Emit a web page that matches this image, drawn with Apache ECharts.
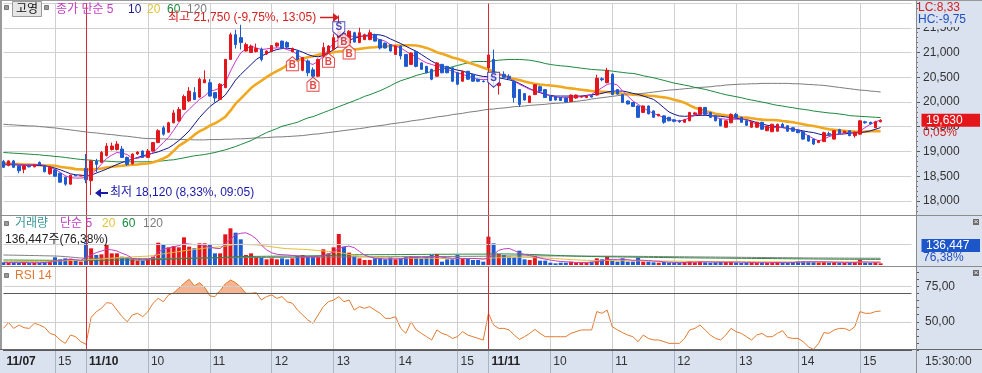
<!DOCTYPE html>
<html><head><meta charset="utf-8">
<script src="https://cdn.jsdelivr.net/npm/echarts@6/dist/echarts.min.js"></script>
<style>html,body{margin:0;padding:0;background:#fff;}#c{width:982px;height:373px;}</style>
</head><body><div id="c"></div>
<script>
// ---------------- DATA (5-minute slots, slot 0 = 11/07 14:10) ----------------
const opens = [18800,18720,18810,18710,18640,18700,18690,18780,18710,18550,
18630,18560,18480,18340,18520,18510,18660,18410,18800,18780,
18920,19040,19040,19050,18880,18750,18950,19010,18880,19010,
19180,19480,19390,19580,19620,19850,20020,20190,20100,20390,
20390,20190,20050,20290,20860,21360,21300,21030,21000,21020,
21070,20970,21020,21130,21230,21200,21020,21030,20640,20830,
20650,20520,20930,21000,21060,21300,21390,21190,21400,21200,
21260,21260,21360,21260,21190,21160,20960,21130,20960,20760,
21020,20790,20720,20660,20520,20760,20720,20690,20590,20420,
20620,20560,20460,20420,20690,20860,20330,20560,20520,20420,
20250,20170,19990,20150,20310,20250,20120,20110,20090,20080,
20010,20080,20100,20090,20130,20140,20470,20390,20560,20250,
20150,20020,19990,19920,19790,19920,19820,19720,19720,19690,
19640,19620,19590,19620,19750,19750,19890,19790,19720,19650,
19490,19580,19750,19690,19620,19490,19490,19590,19420,19400,
19410,19550,19520,19480,19430,19400,19320,19250,19180,19200,
19360,19250,19440,19380,19420,19320,19350,19600,19590,19480,
19600];
const highs = [18830,18820,18830,18720,18720,18720,18740,18800,18720,18690,
18640,18570,18490,18530,18520,18520,18950,18830,18850,19010,
19170,19180,19210,19110,18900,18960,19000,19020,19050,19190,
19450,19520,19600,19840,19900,20150,20300,20300,20490,20640,
20460,20200,20380,20870,21400,21460,21560,21200,21160,21180,
21100,21040,21150,21200,21240,21230,21100,21050,20910,20860,
20700,20880,21200,21150,21380,21750,21420,21450,21420,21500,
21380,21460,21380,21270,21200,21170,21140,21140,20970,21000,
21030,20800,20730,20670,20800,20770,20730,20700,20600,20630,
20630,20570,20470,20440,21000,21060,20400,20620,20560,20440,
20260,20180,20130,20360,20330,20260,20130,20120,20100,20090,
20150,20150,20130,20130,20140,20550,20500,20690,20580,20260,
20160,20030,20000,19930,19930,19930,19830,19760,19730,19700,
19650,19640,19660,19800,19800,19900,19900,19800,19730,19660,
19630,19770,19780,19700,19630,19610,19600,19600,19520,19560,
19560,19580,19530,19490,19440,19410,19330,19260,19230,19400,
19400,19430,19460,19420,19430,19400,19630,19620,19600,19620,
19650];
const lows = [18670,18700,18670,18560,18560,18680,18680,18720,18580,18530,
18490,18370,18310,18330,18500,18500,18360,18120,18580,18770,
18900,19020,19020,18870,18710,18740,18930,18870,18870,19000,
19170,19320,19380,19570,19600,19840,20000,20040,20080,20380,
20110,19990,20040,20280,20850,21080,21060,21020,20990,21000,
20820,20950,21000,21100,21080,21090,21000,20850,20620,20520,
20480,20500,20900,20980,21040,21280,21180,21180,21200,21190,
21250,21250,21220,21060,21080,21020,20950,20860,20720,20750,
20700,20650,20580,20440,20510,20580,20580,20400,20340,20410,
20450,20410,20400,20400,20250,20300,20150,20480,20440,19990,
19900,20030,19980,20140,20200,20080,20020,20030,20020,19990,
20000,20070,20090,20080,20090,20130,20420,20380,20140,20150,
19980,19950,19900,19680,19780,19750,19680,19710,19560,19610,
19590,19580,19580,19610,19740,19740,19740,19680,19610,19510,
19480,19570,19680,19580,19520,19480,19480,19440,19410,19390,
19400,19480,19400,19400,19370,19240,19200,19130,19170,19190,
19330,19240,19360,19370,19310,19280,19340,19560,19540,19470,
19590];
const closes = [18680,18810,18680,18610,18710,18690,18730,18730,18590,18680,
18500,18380,18340,18520,18510,18510,18430,18810,18740,18980,
19110,19110,19150,18880,18740,18950,18990,18880,19010,19180,
19420,19350,19580,19780,19850,20110,20220,20050,20460,20450,
20120,20080,20360,20860,21360,21160,21200,21160,21130,21080,
20860,21030,21140,21190,21090,21110,21080,20860,20900,20590,
20520,20860,21100,21130,21300,21430,21190,21430,21210,21400,
21360,21400,21230,21090,21090,21030,21130,20930,20720,20990,
20720,20660,20590,20460,20790,20590,20590,20420,20360,20620,
20460,20420,20420,20410,20950,20460,20380,20500,20470,20090,
19950,20040,20120,20350,20220,20090,20030,20040,20030,20000,
20140,20140,20110,20120,20100,20480,20450,20640,20150,20160,
19990,19960,19910,19690,19920,19760,19690,19750,19590,19620,
19610,19600,19640,19790,19780,19890,19750,19690,19620,19520,
19620,19750,19690,19590,19530,19600,19590,19450,19510,19550,
19550,19490,19410,19410,19380,19250,19210,19150,19220,19380,
19350,19420,19370,19410,19320,19390,19620,19580,19560,19600,
19630];
const ma5 = [18745,18751,18751,18738,18731,18731,18738,18738,18718,18678,
18644,18577,18510,18470,18463,18463,18476,18543,18631,18745,
18859,18926,18980,18966,18939,18859,18859,18899,18913,18980,
19080,19181,19282,19429,19584,19751,19852,19953,20053,20120,
20221,20241,20288,20389,20624,20825,20993,21073,21127,21093,
21060,21073,21087,21093,21093,21060,21026,20959,20872,20791,
20758,20825,20926,21060,21194,21261,21295,21328,21328,21328,
21328,21328,21295,21261,21228,21160,21127,21093,21026,20959,
20912,20845,20791,20758,20724,20691,20657,20624,20590,20557,
20523,20489,20456,20456,20456,20510,20557,20536,20489,20422,
20355,20308,20255,20228,20201,20161,20120,20100,20087,20087,
20094,20100,20107,20120,20154,20221,20288,20355,20376,20342,
20221,20120,20020,19953,19885,19818,19771,19731,19684,19651,
19624,19617,19637,19684,19731,19771,19785,19738,19684,19664,
19651,19651,19651,19651,19637,19597,19550,19516,19483,19483,
19483,19483,19463,19449,19436,19382,19315,19261,19215,19248,
19302,19329,19362,19382,19382,19369,19416,19483,19550,19597,
19637];
const ma10 = [18731,18731,18731,18731,18725,18725,18725,18718,18711,18691,
18664,18631,18591,18550,18530,18523,18510,18523,18564,18604,
18644,18691,18738,18778,18812,18845,18879,18913,18939,18966,
18993,19033,19073,19141,19221,19315,19416,19550,19684,19798,
19906,19986,20053,20141,20288,20443,20557,20657,20758,20859,
20926,20979,21026,21060,21080,21087,21073,21046,21006,20959,
20926,20912,20939,20993,21060,21127,21194,21248,21288,21315,
21342,21355,21362,21355,21328,21275,21228,21181,21127,21073,
21026,20959,20892,20825,20771,20724,20691,20671,20644,20624,
20590,20563,20536,20516,20510,20503,20489,20469,20449,20422,
20376,20322,20268,20221,20188,20154,20134,20120,20120,20120,
20120,20120,20120,20134,20147,20154,20174,20201,20221,20221,
20221,20201,20174,20154,20120,20087,20053,19973,19885,19798,
19751,19718,19711,19718,19724,19731,19731,19724,19718,19711,
19698,19684,19671,19657,19644,19617,19584,19557,19530,19516,
19503,19483,19470,19449,19436,19416,19396,19382,19355,19329,
19329,19342,19349,19355,19369,19375,19382,19396,19416,19449,
19483];
const ma20 = [18765,18758,18750,18745,18738,18738,18731,18725,18718,18718,
18711,18690,18678,18664,18644,18638,18631,18638,18644,18658,
18678,18691,18705,18711,18725,18731,18738,18751,18758,18785,
18812,18859,18913,19013,19114,19181,19248,19335,19409,19456,
19523,19570,19631,19698,19825,19966,20067,20174,20281,20362,
20429,20503,20570,20624,20677,20744,20812,20845,20879,20906,
20926,20952,20973,20993,21006,21020,21026,21040,21060,21073,
21087,21100,21107,21120,21127,21134,21140,21140,21147,21147,
21140,21120,21093,21053,21006,20973,20939,20899,20872,20838,
20798,20765,20731,20691,20657,20610,20563,20530,20496,20463,
20443,20416,20389,20369,20355,20342,20335,20322,20308,20288,
20275,20261,20248,20235,20221,20214,20208,20201,20188,20181,
20167,20161,20147,20141,20134,20127,20120,20107,20094,20074,
20047,20020,19986,19932,19885,19852,19818,19791,19764,19745,
19731,19718,19704,19691,19684,19671,19657,19644,19637,19637,
19631,19617,19604,19590,19570,19550,19530,19516,19496,19470,
19449,19436,19429,19416,19409,19402,19396,19402,19409,19416,
19409];
const ma60 = [18980,18973,18966,18960,18953,18946,18939,18933,18919,18913,
18899,18892,18879,18865,18852,18839,18832,18825,18812,18812,
18805,18798,18792,18792,18792,18792,18792,18792,18792,18798,
18805,18812,18825,18832,18852,18872,18892,18913,18926,18939,
18960,18980,19007,19033,19067,19100,19141,19181,19221,19275,
19329,19382,19423,19463,19510,19537,19563,19590,19637,19678,
19704,19745,19785,19825,19865,19906,19946,19986,20026,20067,
20114,20147,20188,20228,20275,20328,20382,20429,20463,20496,
20536,20563,20590,20617,20644,20664,20684,20711,20738,20765,
20791,20812,20818,20818,20818,20832,20845,20852,20859,20859,
20859,20852,20845,20825,20805,20778,20758,20744,20731,20724,
20711,20697,20684,20671,20657,20651,20644,20637,20624,20610,
20597,20584,20577,20557,20530,20510,20489,20463,20436,20409,
20382,20362,20342,20322,20295,20275,20255,20228,20201,20174,
20147,20127,20107,20087,20060,20040,20020,19999,19979,19953,
19932,19919,19899,19885,19865,19852,19838,19818,19805,19791,
19778,19771,19758,19745,19724,19718,19711,19704,19698,19691,
19684];
const ma120 = [19550,19543,19537,19530,19523,19516,19516,19503,19496,19483,
19476,19463,19449,19436,19423,19409,19396,19382,19375,19362,
19349,19342,19329,19315,19308,19295,19282,19268,19261,19261,
19255,19255,19248,19248,19241,19241,19241,19235,19235,19235,
19241,19241,19241,19248,19248,19255,19255,19261,19268,19275,
19275,19282,19288,19295,19295,19302,19308,19315,19322,19335,
19349,19355,19369,19382,19396,19409,19423,19436,19449,19463,
19476,19496,19510,19523,19537,19557,19570,19584,19597,19617,
19631,19644,19664,19678,19698,19711,19724,19745,19758,19771,
19791,19805,19818,19838,19852,19858,19872,19879,19892,19906,
19912,19919,19932,19939,19946,19953,19966,19973,19979,19986,
19999,20013,20026,20040,20060,20074,20087,20100,20114,20127,
20141,20147,20154,20167,20174,20188,20201,20214,20228,20241,
20248,20255,20268,20275,20288,20295,20301,20308,20322,20328,
20342,20349,20355,20362,20362,20369,20369,20376,20376,20376,
20376,20376,20376,20369,20369,20362,20355,20349,20342,20335,
20322,20308,20295,20281,20268,20255,20241,20235,20221,20214,
20201];
const volumes = [1140,1000,1140,860,1290,860,1000,1000,1290,1570,
3290,2430,2860,2720,1860,1430,9570,7150,4290,4570,
9000,5000,5000,3570,3290,2430,1860,1860,2430,3570,
9570,8570,7570,8150,7570,11860,7860,7150,9290,9290,
8570,5000,5000,13150,15720,13860,11000,4290,5000,3570,
3290,2430,2860,2430,2860,2430,2860,3860,4290,3570,
3570,3570,6720,5000,7570,13290,7860,5290,3570,2860,
2140,2140,2860,2860,2430,3290,2430,2860,3570,3860,
3570,2860,3570,4290,4720,1430,2430,2430,4290,2860,
2860,2140,2140,1430,12150,9290,4720,4290,3570,3290,
6140,2430,2140,3860,1860,1860,1000,710,1000,1000,
1430,1000,1000,1000,1430,2860,2430,3570,1860,1430,
2860,1430,1430,3140,1430,1430,1140,1000,1290,1000,
860,1000,1290,1570,1140,1430,1140,1000,1140,1290,
1290,1430,1000,860,1000,1140,1000,1000,860,1140,
1290,1000,860,1290,1570,1710,1430,1290,1140,1430,
1000,1290,1000,860,1000,1140,2140,1000,860,1140,
710];
const vma5 = [1100,1100,1100,1100,1100,1000,1000,1000,1100,1200,
1600,1900,2200,2400,2300,2000,3200,4300,5300,6000,
6700,6500,6000,5000,4200,2800,2400,2200,2300,3200,
5500,6800,7200,7800,8300,9200,9000,8700,8800,8200,
7600,7200,7000,9200,11000,13000,13600,13800,12800,11200,
8500,6500,5200,4600,4400,4300,4100,3900,3700,3600,
3600,3700,4000,4600,5800,7000,7800,8100,7400,5800,
4200,3500,2900,2700,2600,2600,2600,2700,2900,3100,
3300,3300,3300,3400,3600,3300,3100,2900,2900,2800,
2800,2800,2700,2500,2900,4500,6300,6900,7100,6200,
5100,4500,4000,3600,3000,2500,2100,1800,1500,1400,
1200,1100,1100,1100,1200,1500,1800,2300,2400,2400,
2500,2300,2000,2100,2000,1900,1700,1600,1300,1200,
1100,1000,1100,1200,1200,1300,1300,1300,1200,1200,
1200,1200,1200,1200,1100,1100,1000,1000,1000,1000,
1100,1100,1100,1100,1200,1300,1400,1400,1400,1300,
1300,1200,1200,1100,1100,1100,1300,1300,1200,1200,
1200];
const vma20 = [1400,1420,1440,1460,1480,1500,1520,1540,1560,1600,
1680,1750,1830,1900,1980,2050,2200,2300,2400,2550,
2800,2950,3100,3200,3350,3500,3600,3700,3800,4000,
4400,4800,5100,5400,5700,6100,6400,6600,6900,7200,
7400,7600,7800,8100,8500,8800,8900,8800,8700,8600,
8400,8100,7800,7500,7200,7000,6900,6800,6700,6600,
6400,6200,6000,5800,5600,5400,5000,4500,4100,3800,
3600,3400,3300,3200,3100,3000,2950,2900,2900,2900,
2850,2850,2850,2850,2850,2800,2800,2800,2800,2750,
2750,2750,2750,2750,2900,3000,3100,3150,3200,3250,
3300,3250,3200,3150,3100,3000,2900,2750,2600,2450,
2300,2200,2100,2000,1950,1900,1900,1900,1880,1860,
1840,1820,1800,1780,1760,1740,1720,1700,1680,1660,
1640,1620,1600,1580,1560,1540,1520,1500,1480,1460,
1440,1430,1420,1410,1400,1390,1380,1370,1360,1350,
1340,1330,1320,1310,1300,1300,1300,1300,1300,1300,
1290,1290,1290,1290,1290,1290,1300,1300,1290,1290,
1290];
const vma60 = [2140,2130,2120,2100,2090,2080,2060,2050,2030,2010,
1990,1970,1950,1920,1890,1860,1900,1950,1980,2000,
2050,2080,2100,2110,2120,2130,2140,2140,2150,2200,
2300,2400,2480,2560,2640,2750,2820,2880,2960,3040,
3100,3140,3180,3300,3420,3540,3620,3650,3680,3700,
3720,3740,3760,3780,3800,3820,3840,3860,3890,3920,
3950,3980,4040,4080,4140,4260,4320,4360,4390,4400,
4400,4410,4420,4430,4440,4450,4460,4470,4490,4510,
4530,4540,4560,4580,4600,4600,4610,4620,4640,4650,
4660,4660,4660,4650,4720,4760,4760,4740,4720,4690,
4660,4600,4530,4470,4380,4300,4200,4120,4040,3960,
3880,3810,3750,3690,3640,3600,3560,3530,3500,3470,
3440,3410,3380,3350,3320,3290,3260,3230,3200,3170,
3140,3110,3080,3060,3040,3020,3000,2980,2960,2940,
2920,2900,2880,2860,2840,2820,2800,2780,2760,2740,
2720,2700,2680,2660,2640,2620,2600,2580,2560,2540,
2520,2500,2490,2480,2470,2460,2450,2440,2430,2430,
2420];
const vma120 = [4290,4250,4210,4170,4130,4090,4050,4000,3950,3900,
3850,3750,3600,3400,3200,3000,2950,2920,2900,2880,
2870,2860,2850,2840,2830,2820,2810,2800,2800,2800,
2820,2840,2860,2880,2900,2930,2950,2970,3000,3020,
3040,3060,3080,3110,3140,3170,3190,3200,3210,3220,
3230,3240,3250,3260,3270,3280,3290,3300,3310,3320,
3330,3340,3360,3380,3400,3430,3450,3460,3470,3480,
3490,3500,3510,3520,3530,3540,3550,3560,3570,3580,
3590,3600,3610,3620,3640,3650,3660,3670,3690,3700,
3710,3720,3730,3740,3800,3840,3860,3870,3880,3890,
3900,3900,3900,3900,3900,3900,3890,3880,3870,3860,
3850,3840,3830,3820,3810,3800,3790,3780,3770,3760,
3750,3740,3720,3700,3680,3660,3640,3620,3600,3580,
3560,3540,3520,3500,3480,3460,3440,3420,3400,3380,
3360,3340,3320,3300,3280,3260,3240,3220,3200,3180,
3160,3140,3120,3100,3080,3060,3040,3020,3000,2990,
2980,2970,2960,2950,2940,2930,2920,2910,2900,2900,
2890];
const rsi = [45.3,49.4,45.3,47.7,45.8,45.3,48.9,47.7,46.0,41.8,
40.6,37.1,34.7,40.6,39.4,35.9,34.0,53.0,57.1,59.5,
63.5,63.1,58.3,53.6,50.0,54.8,56.0,53.6,57.2,63.1,
66.6,64.2,69.0,70.6,73.7,77.2,80.1,75.4,77.7,74.4,
68.3,67.8,72.0,76.8,79.6,77.7,74.4,70.2,70.2,70.6,
65.4,67.8,69.0,66.6,67.8,64.2,63.1,58.3,54.8,51.2,
48.9,54.8,60.7,64.2,65.4,67.8,64.2,65.4,58.3,60.7,
59.5,60.7,58.3,56.0,52.4,52.4,53.6,45.3,41.8,50.0,
44.2,41.8,39.4,37.1,44.2,41.8,40.6,38.2,39.4,43.0,
40.6,39.4,38.2,37.1,56.0,47.7,45.3,45.3,44.2,40.6,
37.5,39.4,41.8,44.6,41.8,39.4,39.4,39.4,39.4,39.4,
41.8,43.0,44.2,44.2,44.2,57.2,56.0,58.3,46.5,44.2,
42.3,40.6,39.4,35.9,40.6,38.2,37.1,37.1,35.9,34.7,
34.7,34.7,38.2,44.2,45.3,47.7,44.2,40.6,38.2,37.1,
40.6,45.3,43.0,41.8,39.4,37.1,40.6,41.8,39.4,39.4,
41.8,43.7,38.9,38.2,38.2,35.9,32.3,30.4,34.7,42.3,
41.8,44.2,45.3,45.3,43.7,46.5,57.2,56.0,56.0,57.2,
57.6];
// trading signals: slot index and signal price
const buySlots = [56, 60, 63, 66, 67];
const buyPrices = [20915, 20499, 20984, 21388, 21152];
const sellSlots = [65, 95];
const sellPrices = [21319, 20297];
// time axis
const SLOT_COUNT = 177;
const tickIdx = [0,10,16,28,40,52,64,76,88,94,106,118,130,142,154,166];
const tickText = ['11/07','15','11/10','10','11','12','13','14','15','11/11','10','11','12','13','14','15'];
const dayStartIdx = [16, 94];

// ---------------- CHART ----------------
const categories = Array.from({length: SLOT_COUNT}, (_, i) => String(i));
const labelMap = new Map(tickIdx.map((v, i) => [v, tickText[i]]));
const gridSet = new Set(tickIdx.filter(i => i > 0 && !dayStartIdx.includes(i)));
const sepSet = new Set(tickIdx.filter(i => i > 0));
const FONT = "'Liberation Sans','Noto Sans CJK KR',sans-serif";
const UP = '#e3161c', DOWN = '#1d5bcf', DAYRED = '#d42a3a', PANEL = '#d9e2ee';
const fmt = v => String(v).replace(/\B(?=(\d{3})+(?!\d))/g, ',');
const GL = 3.4, GW = 908.16;

const dayLines = dayStartIdx.map(i => ({xAxis: i}));
const mk = (extra) => ({silent: true, symbol: ['none','none'], label: {show: false},
  lineStyle: {color: DAYRED, type: 'solid', width: 1}, emphasis: {disabled: true},
  data: (extra || []).concat(dayLines)});

function xAx(g) {
  return {
    type: 'category', gridIndex: g, data: categories, boundaryGap: false,
    axisLine: {show: g === 2, lineStyle: {color: '#666'}},
    axisTick: {show: g === 2, interval: (i) => sepSet.has(i), length: 23, inside: false,
      lineStyle: {color: '#aab5c4'}},
    axisLabel: {show: g === 2, interval: (i) => labelMap.has(i), align: 'left', padding: [0,0,0,3],
      margin: 6, color: '#333', fontSize: 12, fontFamily: FONT,
      formatter: (v, i) => { const t = labelMap.get(i); if (!t) return ''; return t.includes('/') ? '{b|' + t + '}' : t; },
      rich: {b: {fontWeight: 'bold', fontSize: 12, fontFamily: FONT, color: '#222'}}},
    splitLine: {show: true, interval: (i) => gridSet.has(i), lineStyle: {color: '#cfcfcf', width: 1}}
  };
}
const line = (data, color, width, xi, z) => ({type: 'line', xAxisIndex: xi, yAxisIndex: xi, data,
  symbol: 'none', showSymbol: false, lineStyle: {color, width}, itemStyle: {color}, z: z || 2,
  silent: true, clip: false, emphasis: {disabled: true}});

const ohlc = opens.map((o, i) => [o, closes[i], lows[i], highs[i]]);
const volData = volumes.map((v, i) => ({value: v, itemStyle: {color: closes[i] >= opens[i] ? UP : DOWN}}));

const chart = echarts.init(document.getElementById('c'), null, {renderer: 'canvas', width: 982, height: 373});
const option = {
  animation: false,
  backgroundColor: '#ffffff',
  grid: [
    {left: GL, width: GW, top: 3.5, height: 211.5},
    {left: GL, width: GW, top: 216, height: 49},
    {left: GL, width: GW, top: 267, height: 83}
  ],
  xAxis: [xAx(0), xAx(1), xAx(2)],
  yAxis: [
    {type: 'value', gridIndex: 0, position: 'right', offset: 4.4, min: 17717, max: 21990, splitNumber: 8,
      axisLine: {show: false},
      axisTick: {show: true, length: 4, lineStyle: {color: '#555'}},
      minorTick: {show: true, splitNumber: 5, length: 2, lineStyle: {color: '#666'}},
      axisLabel: {margin: 7, color: '#333', fontSize: 12, fontFamily: FONT, showMinLabel: false, showMaxLabel: false,
        formatter: v => (v >= 18000 && v <= 21500) ? fmt(v) : ''},
      splitLine: {show: true, lineStyle: {color: '#d0d0d0', width: 1}}},
    {type: 'value', gridIndex: 1, min: 0, max: 21000, position: 'right', offset: 4.4,
      axisLine: {show: false}, axisTick: {show: false}, axisLabel: {show: false}, splitLine: {show: false}},
    {type: 'value', gridIndex: 2, position: 'right', offset: 4.4, min: 30, max: 88.78, interval: 5,
      axisLine: {show: false},
      axisTick: {show: true, length: 3, lineStyle: {color: '#555'}},
      axisLabel: {margin: 9, color: '#333', fontSize: 12, fontFamily: FONT, showMaxLabel: false,
        formatter: v => (v === 50 || v === 75) ? v.toFixed(2).replace('.', ',') : ''},
      splitLine: {show: false}}
  ],
  series: [
    line(ma120, '#7c7c7c', 1, 0, 1),
    line(ma60, '#1b8a3c', 1, 0, 1),
    line(ma20, '#f0a81e', 2.6, 0, 1),
    line(ma10, '#14148a', 1, 0, 1),
    line(ma5, '#cc33cc', 1, 0, 1),
    {type: 'candlestick', xAxisIndex: 0, yAxisIndex: 0, data: ohlc, barWidth: 3, clip: false, z: 3,
      silent: true,
      itemStyle: {color: UP, color0: DOWN, borderColor: UP, borderColor0: DOWN, borderWidth: 1},
      markLine: mk()},
    {type: 'scatter', xAxisIndex: 0, yAxisIndex: 0, z: 6, silent: true,
      data: buySlots.map((s, i) => [s, buyPrices[i]]),
      symbol: 'path://M6,0L12,5L12,14L0,14L0,5Z', symbolSize: [12, 14], symbolOffset: [0, 7],
      itemStyle: {color: '#ffffff', borderColor: '#e01818', borderWidth: 1},
      label: {show: true, formatter: 'B', position: 'inside', offset: [0, 2], color: '#e01818',
        fontSize: 10, fontWeight: 'bold', fontFamily: FONT}},
    {type: 'scatter', xAxisIndex: 0, yAxisIndex: 0, z: 6, silent: true,
      data: sellSlots.map((s, i) => [s, sellPrices[i]]),
      symbol: 'path://M0,0L12,0L12,9L6,14L0,9Z', symbolSize: [12, 15], symbolOffset: [0, -7.5],
      itemStyle: {color: '#ffffff', borderColor: '#1a1aa8', borderWidth: 1},
      label: {show: true, formatter: 'S', position: 'inside', offset: [0, -2], color: '#1a1aa8',
        fontSize: 10, fontWeight: 'bold', fontFamily: FONT}},
    {type: 'bar', xAxisIndex: 1, yAxisIndex: 1, data: volData, barWidth: 4, clip: false, z: 2, silent: true,
      markLine: mk([{yAxis: 9000, lineStyle: {color: '#cfcfcf', width: 1}}])},
    line(vma120, '#808080', 1, 1, 3),
    line(vma60, '#2a8a40', 1, 1, 3),
    line(vma20, '#e6bc3a', 1, 1, 3),
    line(vma5, '#c040c0', 1, 1, 3),
    {type: 'line', xAxisIndex: 2, yAxisIndex: 2, stack: 'ob', data: rsi.map(() => 70), symbol: 'none',
      lineStyle: {opacity: 0, width: 0}, silent: true, z: 1},
    {type: 'line', xAxisIndex: 2, yAxisIndex: 2, stack: 'ob', data: rsi.map(v => v > 70 ? +(v - 70).toFixed(2) : 0),
      symbol: 'none', lineStyle: {opacity: 0, width: 0}, areaStyle: {color: '#f6b590', opacity: 1}, silent: true, z: 1},
    {type: 'line', xAxisIndex: 2, yAxisIndex: 2, data: rsi, symbol: 'none', silent: true, z: 3,
      lineStyle: {color: '#e27a30', width: 1}, itemStyle: {color: '#e27a30'},
      markLine: mk([
        {yAxis: 75, lineStyle: {color: '#cfcfcf', width: 1}},
        {yAxis: 50, lineStyle: {color: '#cfcfcf', width: 1}},
        {yAxis: 70, lineStyle: {color: '#5a5a5a', width: 1}},
        {yAxis: 30, lineStyle: {color: '#5a5a5a', width: 1}}
      ])}
  ]
};
chart.setOption(option);

// ---------------- decorations (text / frame) ----------------
const T = (text, x, y, fill, opts) => Object.assign({type: 'text', z: 20, silent: true,
  style: Object.assign({text, x, y, fill, fontSize: 12, fontFamily: FONT, verticalAlign: 'middle', align: 'left'}, (opts || {}))});
const R = (x, y, w, h, fill, stroke, z) => ({type: 'rect', z: z === undefined ? 20 : z, silent: true,
  shape: {x, y, width: w, height: h}, style: {fill, stroke: stroke || null, lineWidth: 1}});
const Ln = (x1, y1, x2, y2, stroke, w, z) => ({type: 'line', z: z === undefined ? 15 : z, silent: true,
  shape: {x1, y1, x2, y2}, style: {stroke, lineWidth: w || 1}});

const lastY = chart.convertToPixel({yAxisIndex: 0}, closes[closes.length - 1]);
const g = [
  R(916, 0, 66, 373, PANEL, null, -1),
  R(0, 350, 982, 23, PANEL, null, -1),
  Ln(0, 0.5, 982, 0.5, '#9a9a9a'),
  Ln(1, 0, 1, 350, '#9a9a9a', 2),
  Ln(0, 215.5, 982, 215.5, '#8c8c8c'),
  Ln(0, 266.5, 982, 266.5, '#8c8c8c'),
  Ln(0, 349.5, 982, 349.5, '#666'),
  Ln(916.5, 0, 916.5, 373, '#8a8a8a'),
  // main legend
  R(4.5, 5.5, 4, 4, '#9a9a9a', '#777'),
  R(12.5, 1.5, 29, 15, '#e6e6e6', '#9a9a9a'),
  T('고영', 27, 9.5, '#111', {align: 'center'}),
  R(44.5, 5.5, 4, 4, '#9a9a9a', '#777'),
  T('종가 단순 5', 56, 10, '#c43cc4'),
  T('10', 128, 10, '#1a1a8c'),
  T('20', 147, 10, '#e3c23a'),
  T('60', 167, 10, '#1b8a3c'),
  T('120', 187, 10, '#7c7c7c'),
  // high / low annotations
  T('최고 21,750 (-9,75%, 13:05)', 168, 18, '#d42020'),
  Ln(320, 17.5, 333, 17.5, '#d42020', 1.5),
  {type: 'polygon', z: 20, silent: true, shape: {points: [[333, 13], [339, 17.5], [333, 22]]}, style: {fill: '#d42020'}},
  {type: 'polygon', z: 20, silent: true, shape: {points: [[95, 193], [101, 188.5], [101, 197.5]]}, style: {fill: '#1a1aa8'}},
  Ln(101, 193, 108, 193, '#1a1aa8', 2),
  T('최저 18,120 (8,33%, 09:05)', 110, 193, '#1a1aa8'),
  // volume legend
  R(4.5, 221.5, 4, 4, '#9a9a9a', '#777'),
  T('거래량', 15, 224, '#3a9696'),
  T('단순 5', 60, 224, '#c43cc4'),
  T('20', 102, 224, '#e3c23a'),
  T('60', 122, 224, '#1b8a3c'),
  T('120', 143, 224, '#7c7c7c'),
  T('136,447주(76,38%)', 5, 239.5, '#222'),
  // rsi legend
  R(4.5, 273.5, 4, 4, '#9a9a9a', '#777'),
  T('RSI 14', 15, 276, '#e07830'),
  // right panel
  R(917, 13, 65, 14, PANEL, null, 18),
  T('LC:8,33', 918, 7.5, '#d42020'),
  T('HC:-9,75', 918, 19.5, '#2050c0'),
  R(921.5, lastY - 6.5, 58.5, 13, '#e3161c'),
  T(fmt(closes[closes.length - 1]), 926, lastY, '#ffffff'),
  T('0,05%', 923, lastY + 12, '#d42020'),
  R(921.5, 239, 58.5, 13, '#1d56c8'),
  T('136,447', 926, 245.5, '#ffffff'),
  T('76,38%', 923, 257.5, '#2050c0'),
  R(973, 219, 6, 6, '#6a6a6a'),
  T('×', 976, 222, '#fff', {align: 'center', fontSize: 8}),
  R(973, 270, 6, 6, '#6a6a6a'),
  T('×', 976, 273, '#fff', {align: 'center', fontSize: 8}),
  T('15:30:00', 925, 362, '#333')
];
chart.setOption({graphic: g});
</script>
</body></html>
